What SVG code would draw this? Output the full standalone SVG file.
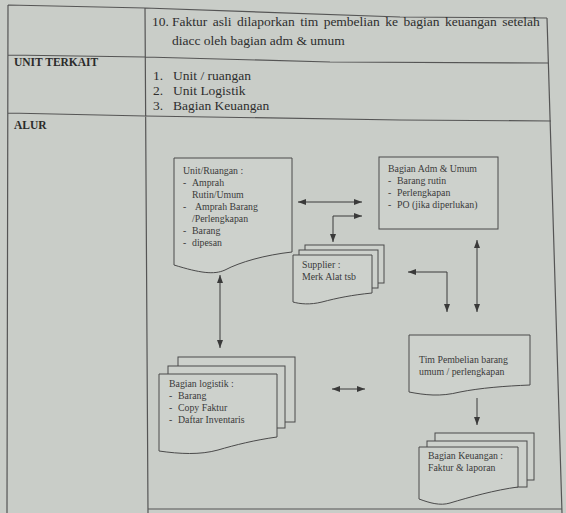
<svg xmlns="http://www.w3.org/2000/svg" width="566" height="513" viewBox="0 0 566 513">
<defs>
<marker id="ah" viewBox="0 0 8 6" refX="8" refY="3" markerWidth="8" markerHeight="6" markerUnits="userSpaceOnUse" orient="auto-start-reverse">
<path d="M0,0 L8,3 L0,6 Z" fill="#3a3a3a"/>
</marker>
</defs>
<style>
.tbl{stroke:#555;stroke-width:1.2;fill:none}
.tt{font-family:"Liberation Serif","Times New Roman",serif;font-size:13.5px;fill:#2e2e2e}
.th{font-family:"Liberation Serif","Times New Roman",serif;font-size:11.5px;font-weight:bold;fill:#2a2a2a}
.dt{font-family:"Liberation Serif","Times New Roman",serif;font-size:9.8px;fill:#3a3a3a}
.sh{fill:#cdd1cc;stroke:#4a4a4a;stroke-width:1}
.cn{stroke:#3a3a3a;stroke-width:1;fill:none;marker-start:url(#ah);marker-end:url(#ah)}
</style>
<rect width="566" height="513" fill="#c9cdc8"/>
<g id="table">
<path class="tbl" d="M8,5 L145,8 L400,17 L547,18 M8,55 L145,57 L330,62 L548,63 M8,113 L145,116 L400,120 L551,121 M8,5 L7,513 M145,8 L148,513 M547,18 L562,513 M148,509 L562,509"/>
<text class="tt" x="152" y="26">10.</text>
<text class="tt" x="172" y="26" word-spacing="2.1">Faktur asli dilaporkan tim pembelian ke bagian keuangan setelah</text>
<text class="tt" x="172" y="45">diacc oleh bagian adm &amp; umum</text>
<text class="th" x="14" y="66">UNIT TERKAIT</text>
<text class="tt" x="153" y="80">1.</text>
<text class="tt" x="173" y="80">Unit / ruangan</text>
<text class="tt" x="153" y="95">2.</text>
<text class="tt" x="173" y="95">Unit Logistik</text>
<text class="tt" x="153" y="110">3.</text>
<text class="tt" x="173" y="110">Bagian Keuangan</text>
<text class="th" x="14" y="129">ALUR</text>
</g>
<g id="unit-ruangan">
<path class="sh" d="M174,158 H292 V252 C265,255 240,262 225,270 C214,275 200,273 174,265 Z"/>
<text class="dt" x="183" y="174">Unit/Ruangan :</text>
<text class="dt" x="183" y="186">-</text><text class="dt" x="192" y="186">Amprah</text>
<text class="dt" x="192" y="198">Rutin/Umum</text>
<text class="dt" x="183" y="210">-</text><text class="dt" x="195" y="210">Amprah Barang</text>
<text class="dt" x="192" y="222">/Perlengkapan</text>
<text class="dt" x="183" y="234">-</text><text class="dt" x="192" y="234">Barang</text>
<text class="dt" x="183" y="246">-</text><text class="dt" x="192" y="246">dipesan</text>
</g>
<g id="bagian-adm">
<rect class="sh" x="379" y="157" width="119" height="72"/>
<text class="dt" x="388" y="172">Bagian Adm &amp; Umum</text>
<text class="dt" x="388" y="184">-</text><text class="dt" x="397" y="184">Barang rutin</text>
<text class="dt" x="388" y="196">-</text><text class="dt" x="397" y="196">Perlengkapan</text>
<text class="dt" x="388" y="208">-</text><text class="dt" x="397" y="208">PO (jika diperlukan)</text>
</g>
<g id="supplier">
<rect class="sh" x="305" y="245" width="79" height="38"/>
<rect class="sh" x="299" y="250" width="79" height="38"/>
<path class="sh" d="M293,255 H372 V293 C352,295 337,298 322,302 C310,305 300,304 293,302 Z"/>
<text class="dt" x="302" y="268">Supplier :</text>
<text class="dt" x="302" y="280">Merk Alat tsb</text>
</g>
<g id="tim-pembelian">
<path class="sh" d="M409,335 H530 V385 C505,386 480,388 460,392 C440,397 425,395 409,392 Z"/>
<text class="dt" x="419" y="363">Tim Pembelian barang</text>
<text class="dt" x="419" y="375">umum / perlengkapan</text>
</g>
<g id="bagian-logistik">
<rect class="sh" x="178" y="357" width="117" height="65"/>
<rect class="sh" x="168" y="366" width="117" height="62"/>
<path class="sh" d="M159,374 H277 V437 C255,440 235,445 218,450 C200,455 180,454 159,451 Z"/>
<text class="dt" x="169" y="387">Bagian logistik :</text>
<text class="dt" x="169" y="399">-</text><text class="dt" x="178" y="399">Barang</text>
<text class="dt" x="169" y="411">-</text><text class="dt" x="178" y="411">Copy Faktur</text>
<text class="dt" x="169" y="423">-</text><text class="dt" x="178" y="423">Daftar Inventaris</text>
</g>
<g id="bagian-keuangan">
<rect class="sh" x="435" y="433" width="99" height="47"/>
<rect class="sh" x="427" y="441" width="100" height="46"/>
<path class="sh" d="M419,447 H518 V487 C495,490 470,497 450,503 C440,506 430,503 419,499 Z"/>
<text class="dt" x="428" y="459">Bagian Keuangan :</text>
<text class="dt" x="428" y="471">Faktur &amp; laporan</text>
</g>
<g id="connectors">
<path class="cn" d="M298,202 H362"/>
<path class="cn" d="M362,216 H333 V242"/>
<path class="cn" d="M408,272 H447 V312"/>
<path class="cn" d="M477,240 V312"/>
<path class="cn" d="M220,275 V348"/>
<path class="cn" d="M332,389 H365"/>
<path class="cn" style="marker-start:none" d="M477,398 V425"/>
</g>
</svg>
